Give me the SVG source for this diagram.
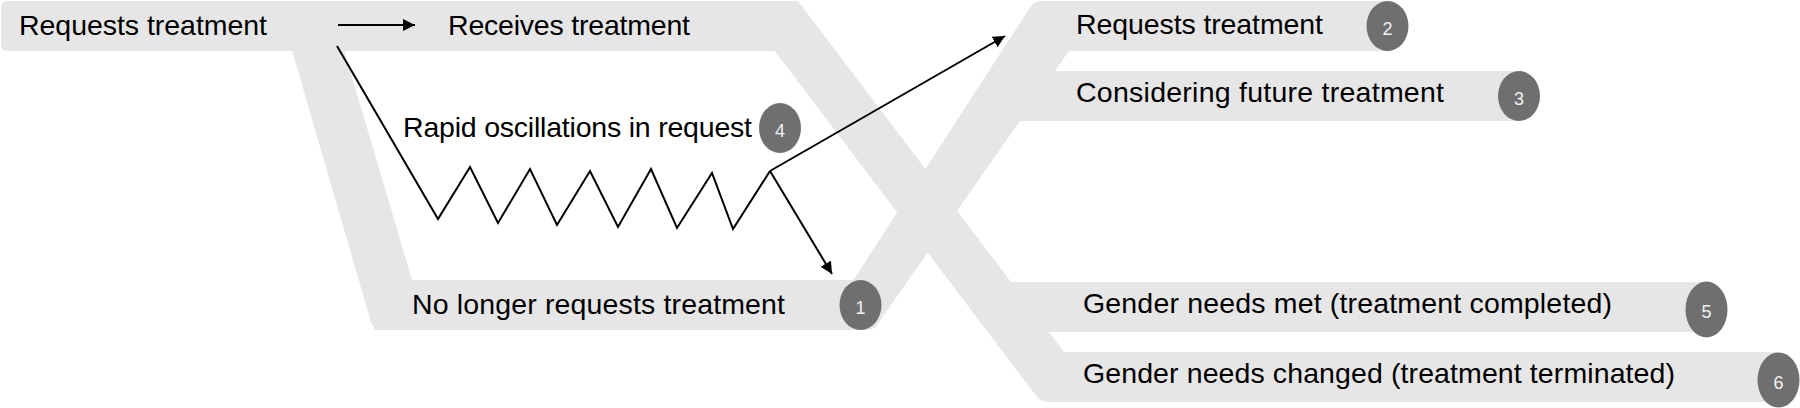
<svg xmlns="http://www.w3.org/2000/svg" width="1800" height="408" viewBox="0 0 1800 408">
<style>
.lane{fill:#e7e6e6;stroke:none}
.lbl{font-family:"Liberation Sans",Arial,sans-serif;font-size:28.5px;fill:#000}
.badge{fill:#6f6f6f}
.num{font-family:"Liberation Sans",Arial,sans-serif;font-size:18px;fill:#f2f2f2;text-anchor:middle}
.ln{fill:none;stroke:#000;stroke-width:2}
</style>
<defs>
<marker id="ah" markerUnits="userSpaceOnUse" markerWidth="13" markerHeight="12" refX="12" refY="6" orient="auto">
<path d="M0,0 L12,6 L0,12 Z" fill="#000"/>
</marker>
</defs>
<g id="lanes">
<path class="lane" d="M289,40 L341,40 L415,290 L415,330 L381,330 Q374,330 371,322 Z"/>
<path class="lane" d="M737,1 L798,1 L1102,402 L1049,402 Q1040,402 1034,393 Z"/>
<path class="lane" d="M821,330 L868,330 Q875,330 879,322 L1104,1 L1042,1 Q1035,1 1031,6 Z"/>
</g>
<g id="node-requests-left">
<rect class="lane" x="1" y="1" width="795" height="50" rx="6"/>
<text class="lbl" x="19" y="34.5" textLength="248">Requests treatment</text>
</g>
<g id="node-receives">
<text class="lbl" x="448" y="34.5" textLength="242">Receives treatment</text>
</g>
<g id="node-oscillations">
<text class="lbl" x="403" y="137" textLength="349">Rapid oscillations in request</text>
<ellipse class="badge" cx="780" cy="128" rx="21" ry="25"/>
<text class="num" x="780" y="137">4</text>
</g>
<g id="node-no-longer">
<rect class="lane" x="374" y="280" width="490" height="50"/>
<text class="lbl" x="412" y="313.5" textLength="373">No longer requests treatment</text>
<ellipse class="badge" cx="860.5" cy="305" rx="21" ry="25"/>
<text class="num" x="860.5" y="313.5">1</text>
</g>
<g id="node-requests-right">
<rect class="lane" x="1045" y="1" width="345" height="50"/>
<text class="lbl" x="1076" y="34" textLength="247">Requests treatment</text>
<ellipse class="badge" cx="1387.5" cy="26" rx="21" ry="25"/>
<text class="num" x="1387.5" y="34.5">2</text>
</g>
<g id="node-considering">
<rect class="lane" x="1000" y="71" width="520" height="50"/>
<text class="lbl" x="1076" y="102" textLength="368">Considering future treatment</text>
<ellipse class="badge" cx="1519" cy="96" rx="21" ry="25"/>
<text class="num" x="1519" y="104.5">3</text>
</g>
<g id="node-needs-met">
<rect class="lane" x="1000" y="282" width="705" height="50"/>
<text class="lbl" x="1083" y="313" textLength="529">Gender needs met (treatment completed)</text>
<ellipse class="badge" cx="1706.5" cy="309.5" rx="21" ry="28"/>
<text class="num" x="1706.5" y="318">5</text>
</g>
<g id="node-needs-changed">
<rect class="lane" x="1050" y="352" width="728" height="50"/>
<text class="lbl" x="1083" y="383" textLength="592">Gender needs changed (treatment terminated)</text>
<ellipse class="badge" cx="1778.5" cy="380" rx="21" ry="27.5"/>
<text class="num" x="1778.5" y="388.5">6</text>
</g>
<g id="connectors">
<line class="ln" x1="338" y1="25" x2="415" y2="25" marker-end="url(#ah)"/>
<polyline class="ln" stroke-linejoin="miter" points="337,46 438,219 470,167 498,223 530,169 557,225 590,171 618,227 651,169 677,228 712,173 733,229 770,171"/>
<line class="ln" x1="770" y1="171" x2="1005" y2="36" marker-end="url(#ah)"/>
<line class="ln" x1="770" y1="171" x2="832" y2="274" marker-end="url(#ah)"/>
</g>
</svg>
